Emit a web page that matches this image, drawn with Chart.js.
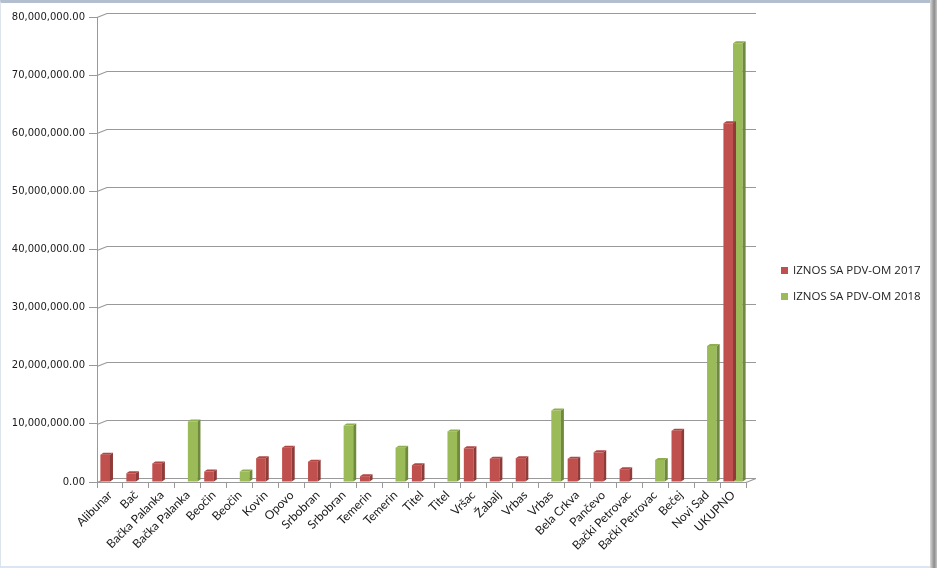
<!DOCTYPE html>
<html>
<head>
<meta charset="utf-8">
<script src="https://cdn.jsdelivr.net/npm/chart.js@4"></script>
<style>
  html, body { margin: 0; padding: 0; background: #fff; overflow: hidden; }
  #wrap { position: relative; width: 937px; height: 568px; }
  #frame { position: absolute; left: 0; top: 0; width: 929px; height: 563px;
           border-left: 1px solid #dde4ec; border-bottom: 2px solid #dce6f2;
           border-top: 3px solid #b3bfcf; pointer-events: none; }
  #shadow { position: absolute; left: 930px; top: 0; width: 7px; height: 568px;
            background: linear-gradient(to right, #d9d9d9, #8c8c8c 60%, #c8c8c8); }
  #legend { position: absolute; left: 781px; top: 262px; font: 11.5px "Open Sans", sans-serif; color: #222; }
  #legend div { height: 26px; line-height: 16px; white-space: nowrap; }
  #legend span { display: inline-block; width: 7px; height: 7px; margin-right: 5px; vertical-align: 0px; }
</style>
</head>
<body>
<div id="wrap">
  <canvas id="chart" width="930" height="568"></canvas>
  <div id="legend"></div>
  <div id="frame"></div>
  <div id="shadow"></div>
</div>
<script>
// categories and values
const categories = ['Alibunar', 'Bač', 'Bačka Palanka', 'Bačka Palanka', 'Beočin', 'Beočin', 'Kovin', 'Opovo',
  'Srbobran', 'Srbobran', 'Temerin', 'Temerin', 'Titel', 'Titel', 'Vršac', 'Žabalj', 'Vrbas', 'Vrbas',
  'Bela Crkva', 'Pančevo', 'Bački Petrovac', 'Bački Petrovac', 'Bečej', 'Novi Sad', 'UKUPNO'];

const values2017 = [4700000, 1500000, 3200000, null, 1800000, null, 4100000, 5900000,
  3500000, null, 1000000, null, 2900000, null, 5800000, 4000000, 4100000, null,
  4000000, 5100000, 2200000, null, 8800000, null, 61700000];

const values2018 = [null, null, null, 10400000, null, 1800000, null, null,
  null, 9700000, null, 5900000, null, 8700000, null, null, null, 12300000,
  null, null, null, 3800000, null, 23400000, 75500000];

const seriesNames = ['IZNOS SA PDV-OM 2017', 'IZNOS SA PDV-OM 2018'];
const yTicks = [0, 10000000, 20000000, 30000000, 40000000, 50000000, 60000000, 70000000, 80000000];

const colors = ['#c0504d', '#9bbb59'];
const sideColors = ['#8e3b39', '#6f8a3c'];
const topColors = ['#b04744', '#8fae4f'];
const gridColor = '#999999';

// depth of the back wall and of the bars
const wallDx = 10, wallDy = 4;
const barDx = 3, barDy = 2;

// legend as html text
const legendBox = document.getElementById('legend');
seriesNames.forEach(function (name, i) {
    legendBox.innerHTML += '<div><span style="background:' + colors[i] + '"></span>' + name + '</div>';
});

// back wall gridlines with the little diagonal at the left
const wallPlugin = {
    id: 'wall',
    beforeDatasetsDraw: function (chart) {
        const ctx = chart.ctx;
        const area = chart.chartArea;
        const y = chart.scales.y;
        ctx.save();
        ctx.strokeStyle = gridColor;
        ctx.lineWidth = 1.2;
        yTicks.forEach(function (v) {
            const py = Math.round(y.getPixelForValue(v)) + 0.5;
            ctx.beginPath();
            ctx.moveTo(area.left, py);
            ctx.lineTo(area.left + wallDx, py - wallDy);
            ctx.lineTo(area.right + wallDx, py - wallDy);
            ctx.stroke();
        });
        // floor right edge
        const p0 = Math.round(y.getPixelForValue(0)) + 0.5;
        ctx.beginPath();
        ctx.moveTo(area.right, p0);
        ctx.lineTo(area.right + wallDx, p0 - wallDy);
        ctx.stroke();
        ctx.restore();
    }
};

// side and top faces of each bar
const bar3dPlugin = {
    id: 'bar3d',
    afterDatasetsDraw: function (chart) {
        const ctx = chart.ctx;
        ctx.save();
        chart.data.datasets.forEach(function (ds, di) {
            chart.getDatasetMeta(di).data.forEach(function (bar, i) {
                if (ds.data[i] == null) return;
                const p = bar.getProps(['x', 'y', 'base', 'width'], true);
                const l = p.x - p.width / 2, r = p.x + p.width / 2;
                ctx.fillStyle = sideColors[di];
                ctx.beginPath();
                ctx.moveTo(r, p.y);
                ctx.lineTo(r + barDx, p.y - barDy);
                ctx.lineTo(r + barDx, p.base - barDy);
                ctx.lineTo(r, p.base);
                ctx.closePath();
                ctx.fill();
                ctx.fillStyle = topColors[di];
                ctx.beginPath();
                ctx.moveTo(l, p.y);
                ctx.lineTo(l + barDx, p.y - barDy);
                ctx.lineTo(r + barDx, p.y - barDy);
                ctx.lineTo(r, p.y);
                ctx.closePath();
                ctx.fill();
            });
        });
        ctx.restore();
    }
};

const ctx = document.getElementById('chart').getContext('2d');
const chart = new Chart(ctx, {
    type: 'bar',
    data: {
        labels: categories,
        datasets: [
            { label: seriesNames[0], data: values2017, backgroundColor: colors[0] },
            { label: seriesNames[1], data: values2018, backgroundColor: colors[1] }
        ]
    },
    options: {
        responsive: false,
        animation: false,
        events: [],
        categoryPercentage: 0.74,
        barPercentage: 1.0,
        layout: { padding: { top: 17, right: 184, bottom: 0, left: 0 } },
        plugins: {
            legend: { display: false },
            tooltip: { enabled: false }
        },
        scales: {
            x: {
                grid: { drawOnChartArea: false, offset: true, color: gridColor, tickLength: 6 },
                border: { color: gridColor },
                ticks: {
                    autoSkip: false, minRotation: 45, maxRotation: 45, padding: 0,
                    color: '#1a1a1a', font: { family: 'Lato', size: 12 }
                },
                afterFit: function (scale) { scale.height = 86; }
            },
            y: {
                min: 0, max: 80000000,
                grid: { drawOnChartArea: false, color: gridColor, tickLength: 8 },
                border: { color: gridColor },
                ticks: {
                    stepSize: 10000000, padding: 4, color: '#1a1a1a',
                    font: { family: 'DejaVu Sans', size: 10 },
                    callback: function (value) {
                        return value.toLocaleString('en-US', { minimumFractionDigits: 2, maximumFractionDigits: 2 });
                    }
                },
                afterFit: function (scale) { scale.width = 97; }
            }
        }
    },
    plugins: [wallPlugin, bar3dPlugin]
});
</script>
</body>
</html>
